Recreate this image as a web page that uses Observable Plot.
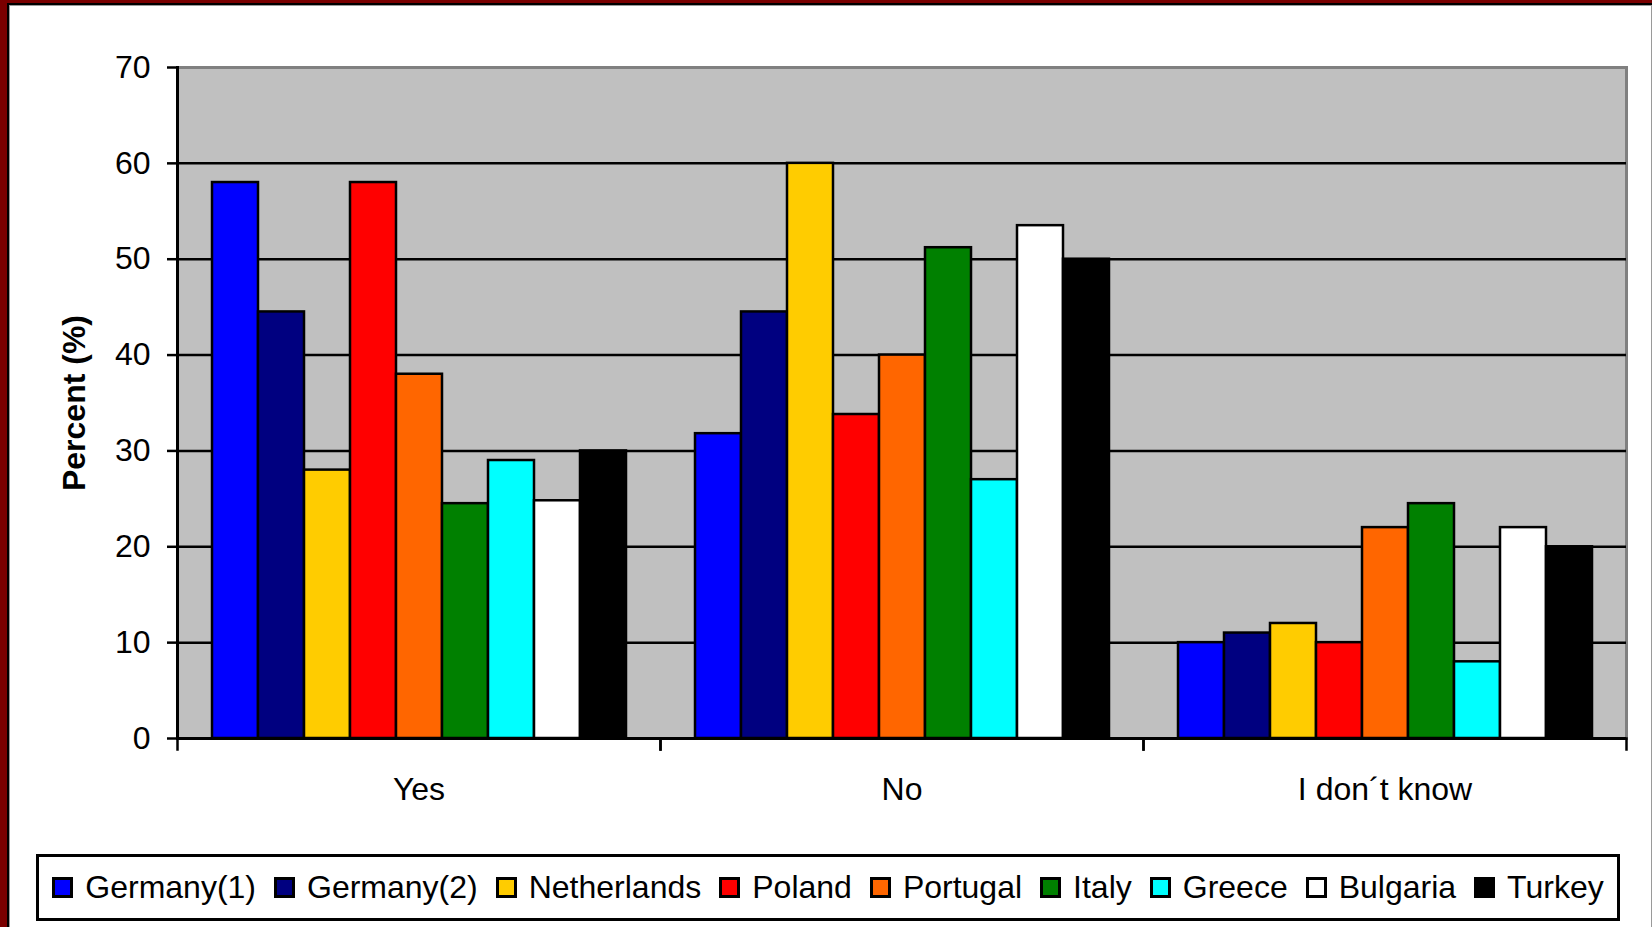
<!DOCTYPE html>
<html>
<head>
<meta charset="utf-8">
<script src="https://cdn.jsdelivr.net/npm/d3@7"></script>
<script src="https://cdn.jsdelivr.net/npm/@observablehq/plot@0.6"></script>
<style>
  html, body { margin: 0; padding: 0; }
  body { width: 1652px; height: 927px; background: #7a0000; position: relative; overflow: hidden;
         font-family: "Liberation Sans", Arial, sans-serif; }
  #box { position: absolute; left: 7px; top: 3px; width: 1643px; height: 940px; background: #fff;
         border-left: 2px solid #000; border-top: 2px solid #000; border-right: 2px solid #000;
         box-shadow: inset 1px 1px 0 #9a9a9a, inset -1px 0 0 #9a9a9a; }
  #chart { position: absolute; left: 0; top: 0; }
  #chart svg { background: transparent; overflow: visible; }
  #chart [aria-label="y-axis label"] text { font-weight: bold; }
  #legend { position: absolute; left: 36px; top: 854px; width: 1584px; height: 67px; box-sizing: border-box;
            border: 3px solid #000; background: #fff; display: flex; align-items: center; justify-content: center;
            font-size: 32px; color: #000; gap: 18px; }
  #legend .item { display: flex; align-items: center; white-space: nowrap; }
  #legend .sw { width: 21px; height: 21px; box-sizing: border-box; border: 3px solid #000; margin-right: 12px; }
</style>
</head>
<body>
<div id="box"></div>
<div id="chart"></div>
<div id="legend"></div>
<script>
const categories = ["Yes", "No", "I don´t know"];
const countries = ["Germany(1)", "Germany(2)", "Netherlands", "Poland", "Portugal", "Italy", "Greece", "Bulgaria", "Turkey"];
const colors = ["#0000ff", "#000080", "#ffcc00", "#ff0000", "#ff6600", "#008000", "#00ffff", "#ffffff", "#000000"];
const yesValues = [58, 44.5, 28, 58, 38, 24.5, 29, 24.8, 30];
const noValues = [31.8, 44.5, 60, 33.8, 40, 51.2, 27, 53.5, 50];
const dontKnowValues = [10, 11, 12, 10, 22, 24.5, 8, 22, 20];
const yTicks = [0, 10, 20, 30, 40, 50, 60, 70];
const gridTicks = [10, 20, 30, 40, 50, 60];

const seriesByCategory = [yesValues, noValues, dontKnowValues];
const data = [];
categories.forEach((cat, i) => countries.forEach((c, j) => data.push({cat, country: c, value: seriesByCategory[i][j]})));

const plotTop = 67, plotBottom = 738;

const chart = Plot.plot({
  width: 1652,
  height: 830,
  marginLeft: 177,
  marginRight: 26,
  marginTop: plotTop,
  marginBottom: 830 - plotBottom,
  style: {fontFamily: "'Liberation Sans', Arial, sans-serif", background: "transparent", color: "#000"},
  fx: {domain: categories, padding: 0, axis: null},
  x: {domain: countries, paddingInner: 0, paddingOuter: 0.68, axis: null},
  y: {domain: [0, 70], axis: null},
  color: {domain: countries, range: colors},
  marks: [
    Plot.frame({facet: "super", fill: "#c0c0c0", stroke: "#808080", strokeWidth: 3}),
    Plot.gridY(gridTicks, {stroke: "#000", strokeOpacity: 1, strokeWidth: 2.5}),
    Plot.barY(data, {fx: "cat", x: "country", y: "value", fill: "country", stroke: "#000", strokeWidth: 2.5}),
    Plot.ruleY([0], {stroke: "#000", strokeWidth: 3}),
    Plot.frame({facet: "super", anchor: "left", stroke: "#000", strokeWidth: 3}),
    Plot.frame({anchor: "left", insetTop: plotBottom - plotTop, insetBottom: -11, stroke: "#000", strokeWidth: 2.5}),
    Plot.frame({anchor: "right", insetTop: plotBottom - plotTop, insetBottom: -11, stroke: "#000", strokeWidth: 2.5}),
    Plot.axisY(yTicks, {tickSize: 10, tickPadding: 17, fontSize: 32, strokeWidth: 2.5,
      label: "Percent (%)", labelAnchor: "center", labelArrow: "none", labelOffset: 115}),
    Plot.axisFx({anchor: "bottom", tickSize: 0, tickPadding: 39, fontSize: 32, label: null})
  ]
});
document.getElementById("chart").appendChild(chart);

const legend = document.getElementById("legend");
countries.forEach((c, i) => {
  const item = document.createElement("div");
  item.className = "item";
  const sw = document.createElement("span");
  sw.className = "sw";
  sw.style.background = colors[i];
  const t = document.createElement("span");
  t.textContent = c;
  item.appendChild(sw);
  item.appendChild(t);
  legend.appendChild(item);
});
</script>
</body>
</html>
